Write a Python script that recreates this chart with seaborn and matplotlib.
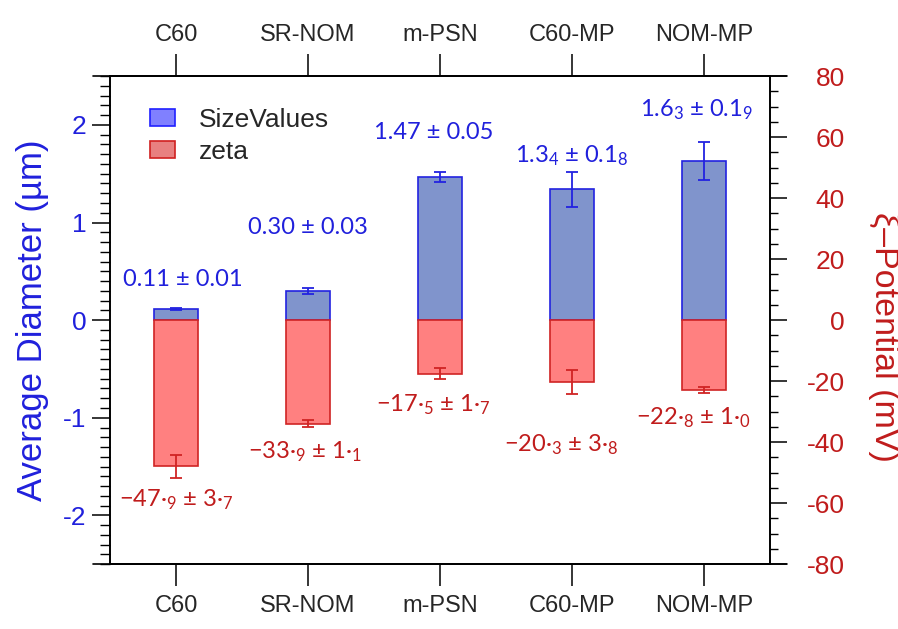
import numpy as np
import pandas as pd
import matplotlib
matplotlib.use("Agg")
import matplotlib.pyplot as plt
from matplotlib.patches import Patch
from matplotlib.lines import Line2D
from matplotlib.ticker import MultipleLocator
import seaborn as sns

# --- data -------------------------------------------------------------
categories = ["C60", "SR-NOM", "m-PSN", "C60-MP", "NOM-MP"]
size_mean = [0.11, 0.30, 1.47, 1.34, 1.63]      # average diameter, µm
size_err = [0.01, 0.03, 0.05, 0.18, 0.19]
size_sub_digit = [False, False, False, True, True]  # last digit written as subscript
zeta_mean = [-47.9, -33.9, -17.5, -20.3, -22.8]  # zeta potential, mV
zeta_err = [3.7, 1.1, 1.7, 3.8, 1.0]

# --- layout of the value labels (x offset in category units, y in µm) ---
size_label_dx = [0.05, 0.0, -0.05, 0.0, -0.06]
size_label_y = [0.42, 0.95, 1.92, 1.68, 2.16]
zeta_label_dx = [0.0, -0.02, -0.05, -0.08, -0.08]
zeta_label_y = [-1.84, -1.35, -0.87, -1.28, -1.00]

BLUE_FILL = "#8094cc"
BLUE_EDGE = "#2222e0"
BLUE_TEXT = "#2020dc"
RED_FILL = "#ff8080"
RED_EDGE = "#d02424"
RED_TEXT = "#c01c1c"

sns.set_style("ticks")
plt.rcParams["font.family"] = ["Liberation Sans", "DejaVu Sans"]
plt.rcParams["axes.unicode_minus"] = False
plt.rcParams["mathtext.fontset"] = "custom"

df = pd.DataFrame({"category": categories, "size": size_mean, "zeta": zeta_mean})


def fmt_size(m, e, sub):
    ms, es = f"{m:.2f}", f"{e:.2f}"
    if sub:
        return (ms[:-1] + r"$\mathregular{_" + ms[-1] + "}$" + " \u00b1 "
                + es[:-1] + r"$\mathregular{_" + es[-1] + "}$")
    return f"{ms} \u00b1 {es}"


def fmt_zeta(m, e):
    ms, es = f"{abs(m):.1f}", f"{e:.1f}"
    mi, md = ms.split(".")
    ei, ed = es.split(".")
    return ("\u2212" + mi + "\u00b7" + r"$\mathregular{_" + md + "}$" + " \u00b1 "
            + ei + "\u00b7" + r"$\mathregular{_" + ed + "}$")


fig = plt.figure(figsize=(8.98, 6.29), dpi=100)
ax = fig.add_axes([0.1225, 0.103, 0.735, 0.776])
ax2 = ax.twinx()

# size bars on the left axis, zeta bars on the right axis
sns.barplot(data=df, x="category", y="size", order=categories, ax=ax,
            color=BLUE_FILL, saturation=1, width=0.34, errorbar=None,
            edgecolor=BLUE_EDGE, linewidth=1.2)
sns.barplot(data=df, x="category", y="zeta", order=categories, ax=ax2,
            color=RED_FILL, saturation=1, width=0.34, errorbar=None,
            edgecolor=RED_EDGE, linewidth=1.2)

xpos = np.arange(len(categories))
ax.errorbar(xpos, size_mean, yerr=size_err, fmt="none", ecolor=BLUE_EDGE,
            elinewidth=1.3, capsize=4, capthick=1.3, zorder=5)
ax2.errorbar(xpos, zeta_mean, yerr=zeta_err, fmt="none", ecolor=RED_EDGE,
             elinewidth=1.3, capsize=4, capthick=1.3, zorder=5)

ax.set_xlim(-0.5, len(categories) - 0.5)
ax.set_ylim(-2.5, 2.5)
ax2.set_ylim(-80, 80)

ax.set_xlabel("")
ax2.set_xlabel("")
ax.set_ylabel("Average Diameter (\u00b5m)", color=BLUE_TEXT, fontsize=25,
              ha="center", va="center")
ax.yaxis.set_label_coords(-0.118, 0.5)
ax2.set_ylabel("\u03be\u2013Potential (mV)", color=RED_TEXT, fontsize=24.5,
               rotation=270, ha="center", va="center")
ax2.yaxis.set_label_coords(1.172, 0.465)

# category ticks on top and bottom
ax.tick_params(axis="x", which="major", direction="out", length=16, width=1.1,
               color="black", bottom=True, top=True, labelbottom=True,
               labeltop=True, labelsize=17, pad=6)
ax.tick_params(axis="x", which="minor", bottom=False, top=False)

# left axis: µm
ax.yaxis.set_major_locator(MultipleLocator(1))
ax.yaxis.set_minor_locator(MultipleLocator(0.1))
ax.tick_params(axis="y", which="major", direction="out", length=13, width=1.1,
               color="black", left=True, right=False, labelsize=19,
               labelcolor=BLUE_TEXT, pad=4)
ax.tick_params(axis="y", which="minor", direction="out", length=7, width=1.0,
               color="black", left=True, right=False)

# right axis: mV
ax2.yaxis.set_major_locator(MultipleLocator(20))
ax2.yaxis.set_minor_locator(MultipleLocator(5))
ax2.tick_params(axis="y", which="major", direction="out", length=12, width=1.1,
                color="black", labelsize=19, labelcolor=RED_TEXT, pad=42)
ax2.tick_params(axis="y", which="minor", direction="out", length=6, width=1.0,
                color="black")
for lab in ax2.get_yticklabels():
    lab.set_horizontalalignment("right")

for a in (ax, ax2):
    for sp in a.spines.values():
        sp.set_visible(True)
        sp.set_color("black")
        sp.set_linewidth(1.2)

# horizontal axis lines run a little past the vertical axes
for yy in (0, 1):
    ax.add_line(Line2D([-0.026, 1.026], [yy, yy], transform=ax.transAxes,
                       color="black", lw=1.2, clip_on=False))

# value labels
for i in range(len(categories)):
    ax.text(i + size_label_dx[i], size_label_y[i],
            fmt_size(size_mean[i], size_err[i], size_sub_digit[i]),
            ha="center", va="center", color=BLUE_TEXT, fontsize=17,
            family=["Lato", "DejaVu Sans"], zorder=6)
    ax.text(i + zeta_label_dx[i], zeta_label_y[i],
            fmt_zeta(zeta_mean[i], zeta_err[i]),
            ha="center", va="center", color=RED_TEXT, fontsize=17,
            family=["Lato", "DejaVu Sans"], zorder=6)

handles = [Patch(facecolor="#8080ff", edgecolor="#2020ff", linewidth=1.2, label="SizeValues"),
           Patch(facecolor="#e88080", edgecolor="#d02020", linewidth=1.2, label="zeta")]
ax.legend(handles=handles, loc="upper left", bbox_to_anchor=(0.06, 0.935),
          frameon=False, fontsize=19, handlelength=0.95, handleheight=0.6,
          handletextpad=0.9, labelspacing=0.3, borderpad=0, borderaxespad=0)

fig.savefig("out.png", dpi=100)
